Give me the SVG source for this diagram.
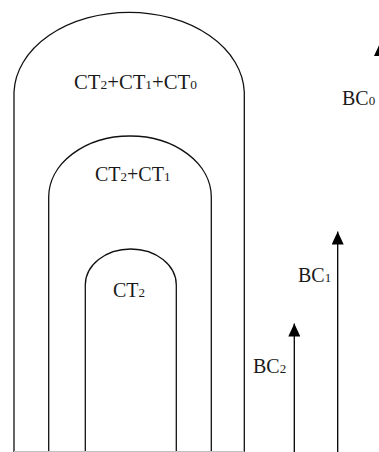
<svg xmlns="http://www.w3.org/2000/svg" width="379" height="452" viewBox="0 0 379 452">
  <defs>
    <!-- arrowhead drawn along +x, tip at the end of the line -->
    <marker id="arrowhead" viewBox="0 0 13 12" refX="13" refY="6" markerWidth="13" markerHeight="12" markerUnits="userSpaceOnUse" orient="auto">
      <path d="M0,0 L13,6 L0,12 Z" fill="#000"/>
    </marker>
    <style>
      .shell { fill: none; stroke: #111; stroke-width: 1.3; }
      .base { fill: none; stroke: #c0c0c0; stroke-width: 1; }
      .arrow { fill: none; stroke: #000; stroke-width: 1.3; marker-end: url(#arrowhead); }
      .label { font-family: "Liberation Serif", "Times New Roman", serif; font-size: 20px; fill: #1a1a1a; }
      .sub { font-size: 13px; }
    </style>
  </defs>

  <rect width="379" height="452" fill="#fff"/>

  <!-- nested regions, each an arch open at the bottom -->
  <g id="region-ct210">
    <path class="shell" d="M14,452 L14,92 A115.2,82 0 0 1 244.3,92 L244.3,452"/>
    <text class="label" x="74" y="89" textLength="123" lengthAdjust="spacingAndGlyphs">CT<tspan class="sub">2</tspan>+CT<tspan class="sub">1</tspan>+CT<tspan class="sub">0</tspan></text>
  </g>

  <g id="region-ct21">
    <path class="shell" d="M48.7,452 L48.7,197 A81.3,61 0 0 1 211.3,197 L211.3,452"/>
    <text class="label" x="95" y="181">CT<tspan class="sub">2</tspan>+CT<tspan class="sub">1</tspan></text>
  </g>

  <g id="region-ct2">
    <path class="shell" d="M85.3,452 L85.3,285 A45.5,36 0 0 1 176.3,285 L176.3,452"/>
    <text class="label" x="113" y="297">CT<tspan class="sub">2</tspan></text>
  </g>

  <!-- ground line under the arches -->
  <line class="base" x1="14" y1="451.5" x2="244.3" y2="451.5"/>

  <!-- upward arrows -->
  <g id="connectors">
    <line class="arrow" x1="294.3" y1="452" x2="294.3" y2="323.5"/>
    <line class="arrow" x1="337.7" y1="452" x2="337.7" y2="231.5"/>
    <line class="arrow" x1="380" y1="452" x2="380" y2="43"/>
  </g>

  <g id="label-bc2">
    <text class="label" x="253" y="373">BC<tspan class="sub">2</tspan></text>
  </g>
  <g id="label-bc1">
    <text class="label" x="298" y="282">BC<tspan class="sub">1</tspan></text>
  </g>
  <g id="label-bc0">
    <text class="label" x="342" y="105">BC<tspan class="sub">0</tspan></text>
  </g>
</svg>
